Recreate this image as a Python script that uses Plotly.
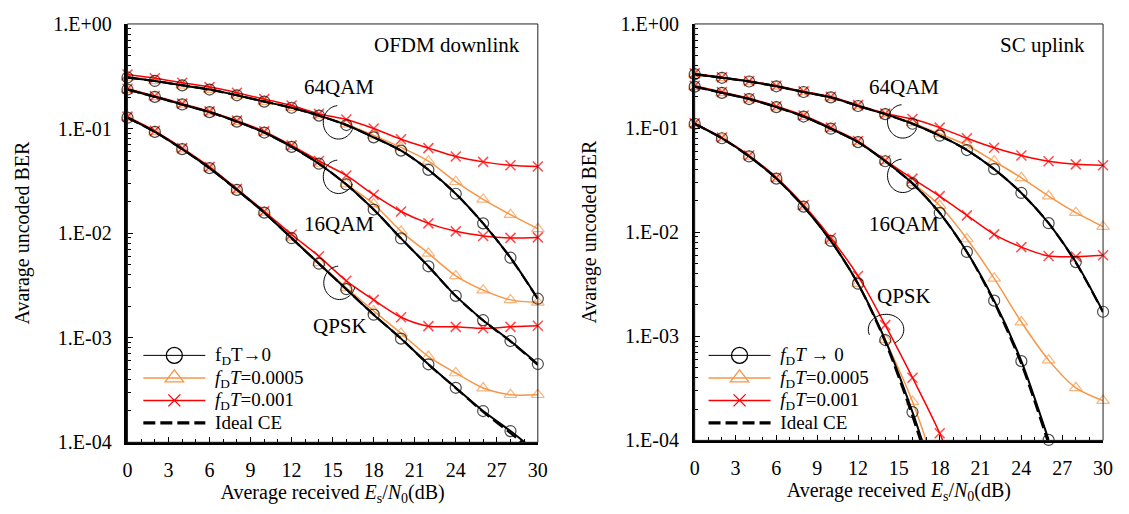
import math
import plotly.graph_objects as go

W, H = 1129, 514
M = 12  # figure margin (px) on every side
FONT = "Liberation Serif"

# ---------------- data ----------------
snr = [0, 2, 4, 6, 8, 10, 12, 14, 16, 18, 20, 22, 24, 26, 28, 30]

# OFDM downlink (left)
ofdm_qpsk_f0 = [0.127, 0.0929, 0.0636, 0.0418, 0.0259, 0.0157, 0.00895, 0.0051, 0.00291, 0.00166, 0.00098, 0.000557, 0.000332, 0.000199, 0.000128, 0.000079]
ofdm_qpsk_f5 = [0.127, 0.093, 0.0636, 0.0418, 0.0259, 0.0158, 0.0091, 0.0052, 0.003, 0.0018, 0.0011, 0.00066, 0.00046, 0.00033, 0.000285, 0.000285]
ofdm_qpsk_f10 = [0.13, 0.095, 0.065, 0.043, 0.0265, 0.0162, 0.0097, 0.006, 0.0035, 0.0023, 0.00157, 0.00129, 0.00127, 0.00123, 0.00127, 0.0013]
ofdm_qpsk_ideal = [0.127, 0.0929, 0.0636, 0.0418, 0.0259, 0.0157, 0.00895, 0.0051, 0.00291, 0.00166, 0.00098, 0.000555, 0.00033, 0.000195, 0.000122, 0.000075]

ofdm_16_f0 = [0.236, 0.201, 0.170, 0.1435, 0.1164, 0.0916, 0.0668, 0.0461, 0.0292, 0.0168, 0.0089, 0.00482, 0.00251, 0.00147, 0.00093, 0.00056]
ofdm_16_f5 = [0.236, 0.201, 0.170, 0.1435, 0.1164, 0.0918, 0.067, 0.0463, 0.0295, 0.019, 0.0104, 0.0064, 0.0039, 0.00285, 0.0023, 0.00218]
ofdm_16_f10 = [0.24, 0.205, 0.173, 0.146, 0.119, 0.094, 0.069, 0.049, 0.0356, 0.0233, 0.0161, 0.0124, 0.0104, 0.0094, 0.009, 0.0091]
ofdm_16_ideal = [0.236, 0.201, 0.170, 0.1435, 0.1164, 0.0916, 0.0668, 0.0461, 0.0292, 0.0168, 0.0089, 0.0048, 0.0025, 0.00146, 0.00092, 0.00055]

ofdm_64_f0 = [0.308, 0.285, 0.259, 0.236, 0.208, 0.181, 0.158, 0.133, 0.108, 0.0824, 0.0615, 0.0403, 0.0238, 0.0124, 0.00582, 0.00236]
ofdm_64_f5 = [0.308, 0.285, 0.259, 0.236, 0.208, 0.181, 0.158, 0.134, 0.11, 0.086, 0.066, 0.0488, 0.031, 0.021, 0.015, 0.011]
ofdm_64_f10 = [0.328, 0.302, 0.274, 0.249, 0.22, 0.191, 0.166, 0.138, 0.122, 0.100, 0.079, 0.065, 0.054, 0.048, 0.0446, 0.0433]
ofdm_64_ideal = [0.308, 0.285, 0.259, 0.236, 0.208, 0.181, 0.158, 0.133, 0.108, 0.0824, 0.0615, 0.0403, 0.0238, 0.0124, 0.0058, 0.00235]

# SC uplink (right)
sc_qpsk_f0 = [0.110, 0.0798, 0.0534, 0.0327, 0.0176, 0.00826, 0.0032, 0.00092, 0.000187, 0.00003, None, None, None, None, None, None]
sc_qpsk_f5 = [0.110, 0.0798, 0.0534, 0.0327, 0.0176, 0.0083, 0.0032, 0.00093, 0.000236, 0.00004, None, None, None, None, None, None]
sc_qpsk_f10 = [0.111, 0.081, 0.0545, 0.0335, 0.0182, 0.0088, 0.0038, 0.00128, 0.0004, 0.000117, 0.000025, None, None, None, None, None]
sc_qpsk_ideal = [0.110, 0.0798, 0.0534, 0.0327, 0.0176, 0.00826, 0.0032, 0.00088, 0.00017, 0.000025, None, None, None, None, None, None]

sc_16_f0 = [0.25, 0.218, 0.19, 0.159, 0.129, 0.0986, 0.0733, 0.048, 0.0294, 0.0153, 0.00646, 0.0022, 0.000577, 0.000101, None, None]
sc_16_f5 = [0.25, 0.218, 0.19, 0.159, 0.129, 0.0986, 0.0735, 0.0485, 0.0298, 0.018, 0.0086, 0.0036, 0.00137, 0.00059, 0.00032, 0.000241]
sc_16_f10 = [0.255, 0.222, 0.193, 0.162, 0.132, 0.101, 0.075, 0.049, 0.0327, 0.0222, 0.0145, 0.00953, 0.00718, 0.0059, 0.00582, 0.006]
sc_16_ideal = [0.25, 0.218, 0.19, 0.159, 0.129, 0.0986, 0.0733, 0.048, 0.0294, 0.0153, 0.00645, 0.00212, 0.00054, 0.000092, None, None]

sc_64_f0 = [0.329, 0.304, 0.28, 0.252, 0.222, 0.197, 0.163, 0.136, 0.110, 0.0845, 0.0615, 0.0403, 0.0238, 0.0122, 0.00516, 0.00172]
sc_64_f5 = [0.329, 0.304, 0.28, 0.252, 0.222, 0.197, 0.163, 0.137, 0.112, 0.088, 0.0684, 0.048, 0.0333, 0.0222, 0.0154, 0.0113]
sc_64_f10 = [0.335, 0.308, 0.283, 0.255, 0.225, 0.2, 0.166, 0.138, 0.122, 0.101, 0.0798, 0.0646, 0.0546, 0.048, 0.0448, 0.0439]
sc_64_ideal = [0.329, 0.304, 0.28, 0.252, 0.222, 0.197, 0.163, 0.136, 0.110, 0.0845, 0.0615, 0.0403, 0.0238, 0.0122, 0.0051, 0.0017]

ytick_vals = [1, 0.1, 0.01, 0.001, 0.0001]
ytick_text = ["1.E+00", "1.E-01", "1.E-02", "1.E-03", "1.E-04"]
xtick_vals = [0, 3, 6, 9, 12, 15, 18, 21, 24, 27, 30]

legend_left = ["f<sub>D</sub>T\u21920", "<i>f</i><sub>D</sub><i>T</i>=0.0005",
               "<i>f</i><sub>D</sub><i>T</i>=0.001", "Ideal CE"]
legend_right = ["<i>f</i><sub>D</sub><i>T</i> \u2192 0", "<i>f</i><sub>D</sub><i>T</i>=0.0005",
                "<i>f</i><sub>D</sub><i>T</i>=0.001", "Ideal CE"]

# ---------------- styles ----------------
BLACK = "#000000"
ORANGE = "#F79646"
RED = "#FF0000"
YMIN = 1e-4


def fx(px):
    return (px - M) / (W - 2 * M)


def fy(py):
    return (H - M - py) / (H - 2 * M)


fig = go.Figure()


def add_curve(y, color, symbol, msize, lw, xa, ya, mlw=1.2):
    sizes = [msize if (v is not None and v >= YMIN) else 0 for v in y]
    fig.add_trace(go.Scatter(
        x=snr, y=y, mode="lines+markers", xaxis=xa, yaxis=ya,
        line=dict(color=color, width=lw, shape="spline", smoothing=0.8),
        marker=dict(symbol=symbol, size=sizes, color=color,
                    line=dict(color=color, width=mlw)),
        cliponaxis=False, showlegend=False, hoverinfo="x+y"))


def add_ideal(y, xa, ya):
    fig.add_trace(go.Scatter(
        x=snr, y=y, mode="lines", xaxis=xa, yaxis=ya,
        line=dict(color=BLACK, width=2.2, dash="12px,5px", shape="spline", smoothing=0.8),
        showlegend=False, hoverinfo="x+y"))


def leg_text(t):
    return '<span style="font-size:19px">\u00a0' + t + "</span>"


def add_legend_entries(names, leg, xa, ya):
    specs = [
        (names[0], BLACK, "circle-open", 16, 1.0, "solid", "lines+markers"),
        (names[1], ORANGE, "triangle-up-open", 16, 1.5, "solid", "lines+markers"),
        (names[2], RED, "x-thin-open", 12, 1.5, "solid", "lines+markers"),
        (names[3], BLACK, "circle", 1, 3.2, "12px,5px", "lines"),
    ]
    for name, c, sym, ms, lw, dash, mode in specs:
        fig.add_trace(go.Scatter(
            x=[None], y=[None], mode=mode, name=leg_text(name), legend=leg, xaxis=xa, yaxis=ya,
            line=dict(color=c, width=lw, dash=dash),
            marker=dict(symbol=sym, size=ms, color=c, line=dict(color=c, width=1.3))))


panels = [
    ("x", "y", [ofdm_qpsk_f5, ofdm_16_f5, ofdm_64_f5], [ofdm_qpsk_f10, ofdm_16_f10, ofdm_64_f10],
     [ofdm_qpsk_f0, ofdm_16_f0, ofdm_64_f0], [ofdm_qpsk_ideal, ofdm_16_ideal, ofdm_64_ideal], legend_left, "legend"),
    ("x2", "y2", [sc_qpsk_f5, sc_16_f5, sc_64_f5], [sc_qpsk_f10, sc_16_f10, sc_64_f10],
     [sc_qpsk_f0, sc_16_f0, sc_64_f0], [sc_qpsk_ideal, sc_16_ideal, sc_64_ideal], legend_right, "legend2"),
]

for xa, ya, f5s, f10s, f0s, ids, names, leg in panels:
    for y in f5s:
        add_curve(y, ORANGE, "triangle-up-open", 11, 1.5, xa, ya)
    for y in f10s:
        add_curve(y, RED, "x-thin-open", 10, 1.5, xa, ya, mlw=1.5)
    for y in f0s:
        add_curve(y, BLACK, "circle-open", 11, 2.0, xa, ya)
    for y in ids:
        add_ideal(y, xa, ya)
    add_legend_entries(names, leg, xa, ya)

# ---------------- axes ----------------
minor_y = [m * 10 ** e for e in range(-4, 0) for m in range(2, 10)]


def xaxis_cfg(domain, anchor):
    return dict(
        domain=domain, anchor=anchor, range=[0, 30], tickmode="array", tickvals=xtick_vals,
        ticks="inside", ticklen=6, tickwidth=1, tickcolor="black",
        minor=dict(dtick=1, tick0=0, ticks="inside", ticklen=4, tickwidth=1, tickcolor="black"),
        showline=True, linewidth=2.5, linecolor="black", mirror=False,
        showgrid=False, zeroline=False, ticklabelstandoff=8,
        tickfont=dict(family=FONT, size=20, color="black"),
        title=dict(text="Average received <i>E</i><sub>s</sub>/<i>N</i><sub>0</sub>(dB)",
                   font=dict(family=FONT, size=20, color="black"), standoff=2),
    )


def yaxis_cfg(domain, anchor):
    return dict(
        domain=domain, anchor=anchor, type="log", range=[-4, 0],
        tickmode="array", tickvals=ytick_vals, ticktext=ytick_text,
        ticks="inside", ticklen=6, tickwidth=1, tickcolor="black",
        minor=dict(tickmode="array", tickvals=minor_y, ticks="inside", ticklen=4, tickwidth=1, tickcolor="black"),
        showline=True, linewidth=2.5, linecolor="black", mirror=False,
        showgrid=False, zeroline=False, ticklabelstandoff=9,
        tickfont=dict(family=FONT, size=20, color="black"),
        title=dict(text="Avarage uncoded BER", font=dict(family=FONT, size=20, color="black"), standoff=19),
    )


fig.update_layout(
    xaxis=xaxis_cfg([fx(124), fx(540)], "y"),
    yaxis=yaxis_cfg([fy(451), fy(13)], "x"),
    xaxis2=xaxis_cfg([fx(699), fx(1113)], "y2"),
    yaxis2=yaxis_cfg([fy(449), fy(13)], "x2"),
)


def leg_cfg(xpx, ypx):
    return dict(x=fx(xpx), y=fy(ypx), xanchor="left", yanchor="top",
                bgcolor="rgba(0,0,0,0)", borderwidth=0, itemwidth=62,
                font=dict(family=FONT, size=15, color="black"), tracegroupgap=0)


fig.update_layout(legend=leg_cfg(135, 343), legend2=leg_cfg(708, 343))

# ---------------- frames, arcs, labels ----------------
shapes = []
for xr, yr in (("x domain", "y domain"), ("x2 domain", "y2 domain")):
    shapes.append(dict(type="rect", xref=xr, yref=yr, x0=0, x1=1, y0=0, y1=1,
                       line=dict(color="#222222", width=1), layer="above"))


def arc(cx, cy, rx, ry, a0, a1, n=40):
    pts = []
    for i in range(n + 1):
        a = math.radians(a0 + (a1 - a0) * i / n)
        px = cx + rx * math.cos(a)
        py = cy - ry * math.sin(a)
        pts.append((fx(px), fy(py)))
    return "M" + " L".join(f"{p[0]:.5f},{p[1]:.5f}" for p in pts)


arcs = [
    (338, 116, 15.5, 17.5, 95, 335), (338, 173, 15.5, 17.5, 95, 335), (339, 284, 16, 17.5, 95, 345),
    (910, 115, 15.5, 17.5, 95, 335), (910, 172, 15.5, 17.5, 95, 335), (893, 333, 18, 16, -60, 200),
]
for cx, cy, rx, ry, a0, a1 in arcs:
    shapes.append(dict(type="path", xref="paper", yref="paper", path=arc(cx, cy, rx, ry, a0, a1),
                       line=dict(color="black", width=1)))

annos = []
for txt, x, y, anc in [
    ("OFDM downlink", 524, 35, "right"), ("64QAM", 338.5, 79, "center"), ("16QAM", 338.5, 222, "center"),
    ("QPSK", 339, 329, "center"),
    ("SC uplink", 1097, 35, "right"), ("64QAM", 911.5, 79, "center"), ("16QAM", 911.5, 222, "center"),
    ("QPSK", 911, 298, "center"),
]:
    annos.append(dict(text=txt, x=fx(x), y=fy(y), xref="paper", yref="paper", xanchor=anc,
                      yanchor="middle", showarrow=False, font=dict(family=FONT, size=21, color="black")))

fig.update_layout(
    width=W, height=H, margin=dict(l=M, r=M, t=M, b=M),
    paper_bgcolor="white", plot_bgcolor="white",
    shapes=shapes, annotations=annos, showlegend=True,
)

fig.write_html("out.html")
